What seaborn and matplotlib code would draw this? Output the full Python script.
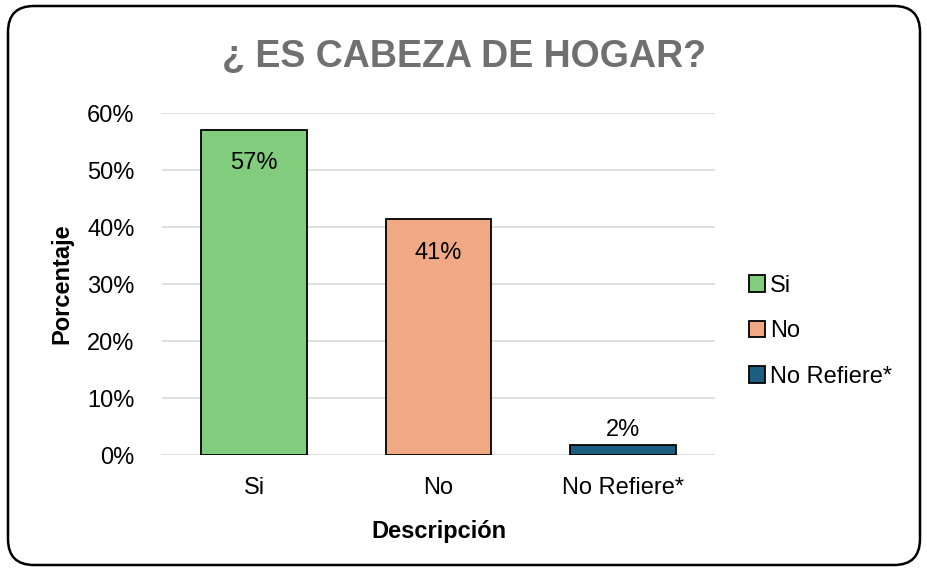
import numpy as np
import pandas as pd
import seaborn as sns
from matplotlib import pyplot as plt
from matplotlib.patches import FancyBboxPatch, Patch
from matplotlib.ticker import PercentFormatter

sns.set_style('white')
plt.rcParams['font.family'] = ['Liberation Sans', 'DejaVu Sans']
plt.rcParams['text.color'] = 'black'

# data
categorias = ['Si', 'No', 'No Refiere*']
porcentajes = [0.571, 0.414, 0.017]
etiquetas = ['57%', '41%', '2%']
colores = ['#82CD7D', '#F1A985', '#1B5E80']

df = pd.DataFrame({'Descripción': categorias, 'Porcentaje': porcentajes})

fig = plt.figure(figsize=(9.27, 5.71), dpi=100)
ax = fig.add_axes([0.175, 0.203, 0.596, 0.599])

sns.barplot(data=df, x='Descripción', y='Porcentaje', hue='Descripción',
            palette=colores, saturation=1, dodge=False, width=0.575,
            edgecolor='black', linewidth=1.3, legend=False, ax=ax, zorder=3)

# labels: inside for the tall bars, above for the small one
for cont, lab, val in zip(ax.containers, etiquetas, porcentajes):
    if val > 0.1:
        ax.bar_label(cont, labels=[lab], padding=-32, fontsize=17, color='black')
    else:
        ax.bar_label(cont, labels=[lab], padding=3, fontsize=17, color='black')

ax.set_ylim(0, 0.6)
ax.set_yticks(np.arange(0, 0.61, 0.1))
ax.yaxis.set_major_formatter(PercentFormatter(1.0, decimals=0))
ax.grid(axis='y', color='#D9D9D9', linewidth=1.2, zorder=0)
ax.set_axisbelow(True)
for s in ax.spines.values():
    s.set_visible(False)
ax.tick_params(axis='both', length=0, labelsize=17, colors='black')
ax.tick_params(axis='y', pad=20)
ax.tick_params(axis='x', pad=16)

ax.set_xlabel('Descripción', fontsize=17, fontweight='bold', labelpad=15,
              color='black')
ax.set_ylabel('Porcentaje', fontsize=17, fontweight='bold', labelpad=10,
              color='black')

fig.text(0.5, 0.9, '¿ ES CABEZA DE HOGAR?', ha='center', va='center',
         fontsize=27, fontweight='bold', color='#707070')

handles = [Patch(facecolor=c, edgecolor='black', linewidth=1.3) for c in colores]
fig.legend(handles, categorias, loc='center left', bbox_to_anchor=(0.785, 0.42),
           frameon=False, fontsize=17, handlelength=0.7, handleheight=0.7,
           handletextpad=0.2, labelspacing=1.0)

# rounded frame around the chart
marco = FancyBboxPatch((8, 6), 912, 559, boxstyle='round,pad=0,rounding_size=26',
                       transform=None, facecolor='none', edgecolor='black',
                       linewidth=1.8)
fig.patches.append(marco)

fig.savefig('out.png', dpi=100)
